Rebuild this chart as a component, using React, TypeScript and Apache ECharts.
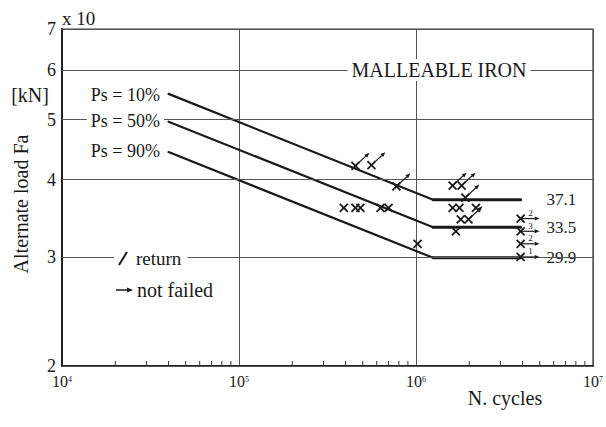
import React, { useEffect, useRef } from 'react';
import * as echarts from 'echarts';

const FONT = '"Liberation Serif", "Times New Roman", serif';
const INK = '#1a1a1a';
const GRID = '#555';

// axis ranges and tick positions
const xRange = [1e4, 1e7];
const yRange = [2, 7];
const xDecades = [1e4, 1e5, 1e6];
const minorMultipliers = [2, 3, 4, 5, 6, 7, 8, 9];
const yTickValues = [2, 3, 4, 5, 6, 7];

// S-N curves (load in units of 10 kN)
const ps10Slope = [[4e4, 5.5], [1.25e6, 3.71]];
const ps10Flat = [[1.25e6, 3.71], [3.9e6, 3.71]];
const ps50Slope = [[4e4, 4.96], [1.25e6, 3.35]];
const ps50Flat = [[1.25e6, 3.35], [3.9e6, 3.35]];
const ps90Slope = [[4e4, 4.43], [1.25e6, 2.99]];
const ps90Flat = [[1.25e6, 2.99], [3.9e6, 2.99]];

// failed specimens
const failedPlain = [
  [3.91e5, 3.6], [4.55e5, 3.6], [4.85e5, 3.6], [6.3e5, 3.6], [7.0e5, 3.6],
  [1.61e6, 3.6], [1.76e6, 3.6], [2.18e6, 3.6],
  [1.79e6, 3.45], [1.68e6, 3.3], [1.02e6, 3.15],
];
// failed specimens marked "return"
const failedReturn = [
  [4.55e5, 4.21], [5.6e5, 4.22], [7.75e5, 3.9],
  [1.61e6, 3.91], [1.81e6, 3.91], [1.9e6, 3.74], [1.98e6, 3.45],
];
// not failed (run-outs): [N, load, count]
const notFailed = [
  [3.9e6, 3.46, 2], [3.9e6, 3.3, 3], [3.9e6, 3.15, 2], [3.9e6, 3.0, 1],
];

const minorTicks: number[][] = [];
xDecades.forEach((d) => minorMultipliers.forEach((m) => minorTicks.push([d * m, yRange[0]])));

function xMark(x: number, y: number) {
  const h = 4;
  return [
    { type: 'line', shape: { x1: x - h, y1: y - h, x2: x + h, y2: y + h }, style: { stroke: INK, lineWidth: 1.8 } },
    { type: 'line', shape: { x1: x - h, y1: y + h, x2: x + h, y2: y - h }, style: { stroke: INK, lineWidth: 1.8 } },
  ];
}

function arrow(x1: number, y1: number, x2: number, y2: number, head = 5, half = 2) {
  const dx = x2 - x1, dy = y2 - y1;
  const len = Math.sqrt(dx * dx + dy * dy);
  const ux = dx / len, uy = dy / len;
  const nx = -uy, ny = ux;
  const bx = x2 - ux * head, by = y2 - uy * head;
  return [
    { type: 'line', shape: { x1, y1, x2: bx, y2: by }, style: { stroke: INK, lineWidth: 1.2 } },
    {
      type: 'polygon',
      shape: { points: [[x2, y2], [bx + nx * half, by + ny * half], [bx - nx * half, by - ny * half]] },
      style: { fill: INK },
    },
  ];
}

function curve(name: string, data: number[][], width: number, extra: any = {}) {
  return {
    type: 'line', name, data, symbol: 'none', silent: true,
    lineStyle: { color: INK, width, cap: 'round' }, z: 3, ...extra,
  };
}

const endLabel = (bg: boolean) => ({
  show: true,
  formatter: (p: any) => (p.value[1] * 10).toFixed(1),
  distance: 24,
  fontFamily: FONT,
  fontSize: 17,
  color: INK,
  backgroundColor: bg ? '#fff' : 'transparent',
  padding: [0, 2],
});

export default function App() {
  const ref = useRef<HTMLDivElement>(null);
  useEffect(() => {
    if (!ref.current) return;
    const chart = echarts.init(ref.current, null, { renderer: 'svg' });
    const t = (x: number, y: number, text: string, o: any = {}) => ({
      type: 'text', x, y, z: 100,
      style: {
        text, fontFamily: FONT, fontSize: 18, fill: INK,
        textAlign: 'center', textVerticalAlign: 'middle', ...o,
      },
    });
    chart.setOption({
      animation: false,
      backgroundColor: '#fff',
      textStyle: { fontFamily: FONT },
      grid: { left: 62, right: 11, top: 29, bottom: 61, show: true, borderColor: '#333', borderWidth: 1.2 },
      xAxis: {
        type: 'log', logBase: 10, min: xRange[0], max: xRange[1],
        axisLine: { show: true, lineStyle: { color: '#222', width: 2 } },
        axisTick: { show: false },
        splitLine: { show: true, lineStyle: { color: GRID, width: 1 } },
        axisLabel: {
          margin: 9,
          formatter: (v: number) => '{b|10}{s|' + Math.round(Math.log10(v)) + '}',
          rich: {
            b: { fontFamily: FONT, fontSize: 16, color: INK, lineHeight: 14, verticalAlign: 'bottom' },
            s: { fontFamily: FONT, fontSize: 8, color: INK, lineHeight: 7, verticalAlign: 'top' },
          },
        },
      },
      yAxis: {
        type: 'log', logBase: 10, min: yRange[0], max: yRange[1],
        axisLine: { show: true, lineStyle: { color: '#222', width: 2 } },
        axisTick: { show: false },
        axisLabel: { show: false },
        splitLine: { show: false },
      },
      series: [
        {
          type: 'custom', name: 'minorTicks', data: minorTicks, encode: { x: 0, y: 1 }, silent: true, z: 4,
          renderItem: (_p: any, api: any) => {
            const c = api.coord([api.value(0), api.value(1)]);
            return { type: 'line', shape: { x1: c[0], y1: c[1], x2: c[0], y2: c[1] - 5 }, style: { stroke: '#333', lineWidth: 1 } };
          },
          markLine: {
            silent: true, symbol: 'none', animation: false,
            lineStyle: { color: GRID, width: 1, type: 'solid' },
            label: { position: 'start', formatter: (p: any) => String(p.value), fontFamily: FONT, fontSize: 18, lineHeight: 13, color: INK, distance: 6 },
            data: yTickValues.map((v) => ({ yAxis: v })),
          },
        },
        curve('Ps = 10% slope', ps10Slope, 2.2),
        curve('Ps = 10%', ps10Flat, 3, { endLabel: endLabel(false) }),
        curve('Ps = 50% slope', ps50Slope, 2.2),
        curve('Ps = 50%', ps50Flat, 3, { endLabel: endLabel(false) }),
        curve('Ps = 90% slope', ps90Slope, 2.2),
        curve('Ps = 90%', ps90Flat, 3, { endLabel: endLabel(true) }),
        {
          type: 'custom', name: 'failed', data: failedPlain, encode: { x: 0, y: 1 }, silent: true, z: 5,
          renderItem: (_p: any, api: any) => {
            const c = api.coord([api.value(0), api.value(1)]);
            return { type: 'group', children: xMark(c[0], c[1]) };
          },
        },
        {
          type: 'custom', name: 'return', data: failedReturn, encode: { x: 0, y: 1 }, silent: true, z: 5,
          renderItem: (_p: any, api: any) => {
            const c = api.coord([api.value(0), api.value(1)]);
            return { type: 'group', children: [...xMark(c[0], c[1]), ...arrow(c[0], c[1], c[0] + 14, c[1] - 13)] };
          },
        },
        {
          type: 'custom', name: 'not failed', data: notFailed, encode: { x: 0, y: 1 }, silent: true, z: 5,
          renderItem: (_p: any, api: any) => {
            const c = api.coord([api.value(0), api.value(1)]);
            return {
              type: 'group',
              children: [
                ...xMark(c[0], c[1]),
                ...arrow(c[0], c[1], c[0] + 19, c[1], 5, 2),
                {
                  type: 'text', x: c[0] + 10, y: c[1] - 1,
                  style: { text: String(api.value(2)), fontFamily: FONT, fontSize: 9, fill: INK, textAlign: 'center', textVerticalAlign: 'bottom' },
                },
              ],
            };
          },
        },
      ],
      graphic: [
        t(62, 18, 'x 10', { textAlign: 'left', fontSize: 19 }),
        t(30, 95, '[kN]', { fontSize: 20 }),
        { ...t(21, 204, 'Alternate load Fa', { fontSize: 20 }), rotation: Math.PI / 2 },
        t(505, 398, 'N. cycles', { fontSize: 20 }),
        t(439, 70, 'MALLEABLE IRON', { fontSize: 20, backgroundColor: '#fff', padding: [1, 4] }),
        t(164, 95, 'Ps = 10%', { textAlign: 'right', backgroundColor: '#fff', padding: [0, 4] }),
        t(164, 121, 'Ps = 50%', { textAlign: 'right', backgroundColor: '#fff', padding: [0, 4] }),
        t(164, 151, 'Ps = 90%', { textAlign: 'right', backgroundColor: '#fff', padding: [0, 4] }),
        t(114, 258, 'return', { textAlign: 'left', fontSize: 19, backgroundColor: '#fff', padding: [0, 6, 0, 22] }),
        { type: 'line', z: 101, shape: { x1: 119, y1: 265, x2: 127, y2: 252 }, style: { stroke: INK, lineWidth: 2 } },
        { type: 'line', z: 101, shape: { x1: 116, y1: 290, x2: 128, y2: 290 }, style: { stroke: INK, lineWidth: 1.5 } },
        { type: 'polygon', z: 101, shape: { points: [[133, 290], [127, 287.5], [127, 292.5]] }, style: { fill: INK } },
        t(137, 290, 'not failed', { textAlign: 'left', fontSize: 20 }),
      ],
    });
    return () => chart.dispose();
  }, []);
  return <div ref={ref} style={{ width: 606, height: 427, position: 'absolute', left: 0, top: 0 }} />;
}
